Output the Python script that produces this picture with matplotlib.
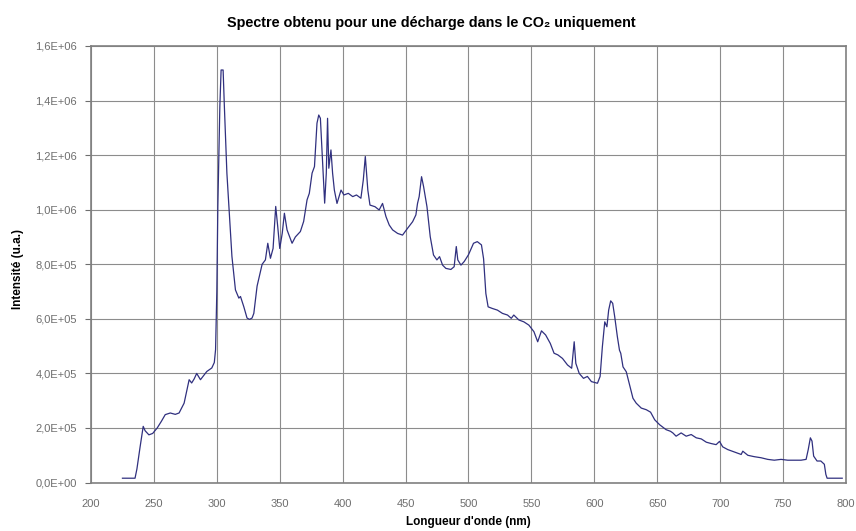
import numpy as np
import matplotlib
matplotlib.use("Agg")
import matplotlib.pyplot as plt
from matplotlib.ticker import FuncFormatter

plt.rcParams['font.family'] = ['Liberation Sans', 'DejaVu Sans']

# Spectre : longueur d'onde (nm) et intensite (u.a.)
longueur_onde = [
    225, 235, 236.5, 239, 241.5, 243, 246, 249, 252.6, 256, 259, 263, 267, 270,
    274, 278, 280, 282, 284, 287, 290, 292, 296, 298, 299, 300, 300.8, 302.4,
    303.4, 305, 306, 308, 310, 312, 314.8, 317.5, 318.8, 321.4, 324, 326, 328,
    329.4, 332, 334, 336, 338.6, 340.5, 342.6, 344.7, 346.8, 348.4, 350, 352,
    353.7, 355.8, 359.8, 362.4, 366.4, 369, 371.7, 373.5, 375.7, 377.6, 379.6,
    381, 382.3, 383.6, 385.7, 387, 388, 389, 390.7, 392, 393.4, 395.5, 398.7,
    401, 404.5, 408, 411, 414.5, 416.4, 418, 420, 421.7, 425.7, 429, 431.7,
    434.4, 437, 439.7, 443.7, 447.6, 451.6, 455.6, 458.2, 459.5, 460.8, 462.7,
    464.3, 467, 469.6, 472.2, 474.9, 477, 479.4, 482, 486, 488.6, 490.3, 491.5,
    494, 496.6, 500, 504, 507, 510.3, 512, 513.8, 515.6, 519, 523, 527, 531,
    534, 536, 540, 544, 548, 552, 555, 558, 561.3, 565, 568, 571, 574.7, 578.7,
    582, 584, 585.3, 588, 591.4, 594.5, 597.7, 602.5, 604.6, 606.4, 608.3, 610,
    611.4, 613, 614.6, 616.2, 618.3, 620, 621, 622.8, 625.4, 628, 630.7, 633.3,
    637.3, 641.3, 644.7, 648, 651.9, 655.3, 657, 660.5, 662.4, 665, 669, 673,
    677, 681, 685, 689, 692.9, 696.8, 699.5, 702, 706, 711.4, 716.7, 718, 722,
    727, 732.5, 737.8, 743, 748.4, 753.7, 759, 764.3, 768.3, 770, 771.7, 773,
    774.3, 777, 780, 782.8, 784, 785, 797,
]
intensite = [
    16000, 16000, 50000, 130000, 206000, 190000, 175000, 180000, 200000, 225000,
    249000, 255000, 250000, 255000, 291000, 377000, 365000, 380000, 400000,
    377000, 395000, 407000, 420000, 440000, 487000, 700000, 1012000, 1378000,
    1512000, 1512000, 1378000, 1134000, 980000, 829000, 706000, 676000, 682000,
    645000, 603000, 598000, 603000, 620000, 720000, 760000, 800000, 816000,
    877000, 822000, 858000, 1012000, 938000, 858000, 914000, 987000, 926000,
    877000, 900000, 920000, 957000, 1036000, 1060000, 1134000, 1158000, 1317000,
    1347000, 1335000, 1219000, 1024000, 1134000, 1335000, 1152000, 1219000,
    1134000, 1072000, 1023000, 1072000, 1054000, 1060000, 1048000, 1054000,
    1042000, 1109000, 1195000, 1072000, 1017000, 1011000, 999000, 1023000,
    975000, 944000, 926000, 913000, 907000, 932000, 956000, 981000, 1023000,
    1048000, 1121000, 1085000, 1011000, 901000, 834000, 816000, 828000, 797000,
    785000, 781000, 791000, 865000, 816000, 797000, 810000, 835000, 877000,
    883000, 871000, 820000, 693000, 644000, 638000, 632000, 620000, 614000,
    602000, 614000, 596000, 589000, 577000, 553000, 516000, 556000, 541000,
    510000, 474000, 468000, 455000, 431000, 419000, 516000, 437000, 400000,
    382000, 389000, 370000, 364000, 389000, 498000, 589000, 571000, 632000,
    666000, 657000, 608000, 535000, 485000, 474000, 424000, 406000, 358000,
    309000, 291000, 273000, 267000, 258000, 230000, 212000, 200000, 194000,
    188000, 182000, 170000, 182000, 170000, 176000, 164000, 160000, 148000,
    143000, 139000, 151000, 131000, 121000, 112000, 103000, 115000, 100000,
    95000, 91000, 85000, 82000, 85000, 82000, 82000, 82000, 85000, 121000,
    164000, 152000, 97000, 79000, 79000, 67000, 30000, 16000, 16000,
]

x_ticks = np.arange(200, 801, 50)
y_ticks = np.arange(0, 1.6e6 + 1, 2e5)

fig = plt.figure(figsize=(8.56, 5.31), dpi=100)
ax = fig.add_axes([0.1063, 0.0912, 0.8820, 0.8222])

ax.plot(longueur_onde, intensite, color='#30307f', lw=0.9)

ax.set_xlim(200, 800)
ax.set_ylim(0, 1.6e6)
ax.set_xticks(x_ticks)
ax.set_yticks(y_ticks)
ax.yaxis.set_major_formatter(FuncFormatter(lambda v, p: f"{v:.1E}".replace('.', ',')))
ax.tick_params(labelsize=8, colors='#6e6e6e', length=4, width=0.8, pad=6)
ax.tick_params(axis='x', length=0, pad=12)
ax.grid(True, color='#8c8c8c', lw=0.8)
ax.set_axisbelow(True)
for s in ax.spines.values():
    s.set_color('#808080')
    s.set_linewidth(1.2)

# titre centre sur la figure, comme dans Excel
fig.text(0.504, 0.957, "Spectre obtenu pour une décharge dans le CO₂ uniquement",
         fontsize=10.4, fontweight='bold', ha='center', va='center')
ax.set_xlabel("Longueur d'onde (nm)", fontsize=8.5, fontweight='bold', labelpad=5)
ax.set_ylabel("Intensité (u.a.)", fontsize=8.5, fontweight='bold')
ax.yaxis.set_label_coords(-0.089, 0.49)

fig.savefig("out.png", dpi=100)
